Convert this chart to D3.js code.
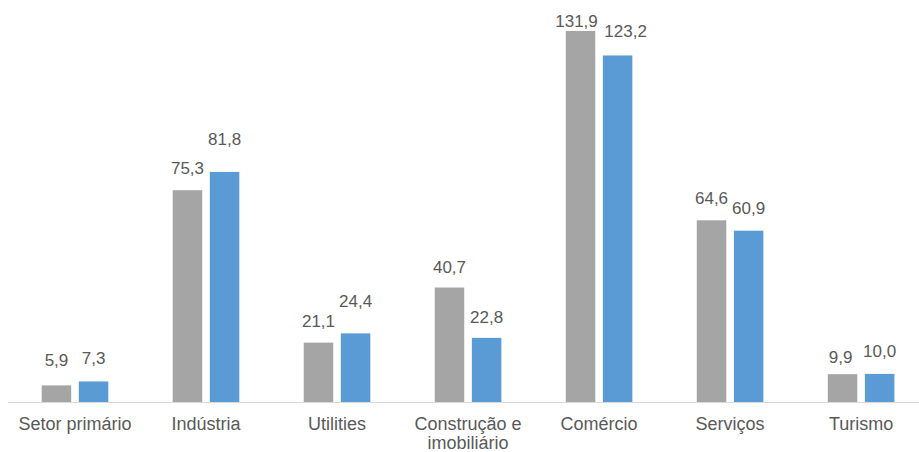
<!DOCTYPE html>
<html>
<head>
<meta charset="utf-8">
<script src="https://cdn.jsdelivr.net/npm/d3@7"></script>
<style>
  html, body { margin: 0; padding: 0; background: #ffffff; }
  svg { display: block; }
  text { font-family: "Liberation Sans", Arial, sans-serif; fill: #595959; }
</style>
</head>
<body>
<svg id="chart" width="919" height="452"></svg>
<script>
// ---- data ----
const categories = ["Setor primário", "Indústria", "Utilities", "Construção e imobiliário", "Comércio", "Serviços", "Turismo"];
const seriesNames = ["Série 1", "Série 2"];
const series1 = [5.9, 75.3, 21.1, 40.7, 131.9, 64.6, 9.9];
const series2 = [7.3, 81.8, 24.4, 22.8, 123.2, 60.9, 10.0];

// ---- layout / style ----
const W = 919, H = 452;
const colors = ["#A5A5A5", "#5B9BD5"];
const baseY = 402;
// small label nudges (layout tweaks mimicking the original's label placement)
const labelNudgeY = [[-3, 0, 0, 1, 12, 0, 5], [-1, -11, -10, 1, -2, -1, -1]];
const labelNudgeX = [[0, 0, 0, 0, -4, 0, -2], [0, 0, 0, 0, 8, 0, 0]];

const svg = d3.select("#chart");

const x0 = d3.scaleBand().domain(categories).range([9.5, 926.6]).padding(0);
const groupW = 66.6;
const x1 = d3.scaleBand().domain(seriesNames).range([0, groupW]).paddingInner(0.205);
const y = d3.scaleLinear().domain([0, 140]).range([baseY, 8.2]);

const data = categories.map((c, i) => ({ cat: c, vals: [series1[i], series2[i]] }));

const groups = svg.append("g").selectAll("g").data(data).join("g")
  .attr("transform", d => `translate(${x0(d.cat) + x0.bandwidth() / 2 - groupW / 2},0)`);

groups.selectAll("rect").data(d => d.vals.map((v, k) => ({ v, k })))
  .join("rect")
  .attr("x", d => x1(seriesNames[d.k]))
  .attr("y", d => y(d.v))
  .attr("width", x1.bandwidth())
  .attr("height", d => baseY - y(d.v))
  .attr("fill", d => colors[d.k]);

const fmt = v => d3.format(".1f")(v).replace(".", ",");

groups.each(function(d, i) {
  const g = d3.select(this);
  d.vals.forEach((v, k) => {
    g.append("text")
      .attr("x", x1(seriesNames[k]) + x1.bandwidth() / 2 + labelNudgeX[k][i])
      .attr("y", y(v) - 16 + labelNudgeY[k][i])
      .attr("text-anchor", "middle")
      .style("font-size", "17px")
      .text(fmt(v));
  });
});

// baseline axis
const xAxis = d3.axisBottom(x0).tickSize(0).tickPadding(0);
const axG = svg.append("g").attr("transform", `translate(0,${baseY})`).call(xAxis);
axG.select(".domain").remove();
svg.append("line").attr("x1", 8).attr("x2", W).attr("y1", baseY + 0.5).attr("y2", baseY + 0.5)
  .attr("stroke", "#D9D9D9").attr("stroke-width", 1);

axG.selectAll(".tick text")
  .style("font-size", "18px")
  .attr("fill", "#595959")
  .attr("font-family", null)
  .attr("dy", null)
  .attr("y", 28)
  .each(function(d) {
    const t = d3.select(this);
    const maxW = x0.bandwidth() * 0.95;
    const words = d.split(" ");
    t.text(null);
    let line = [];
    let lineNo = 0;
    let tspan = t.append("tspan").attr("x", 0).attr("y", 28);
    words.forEach(w => {
      line.push(w);
      tspan.text(line.join(" "));
      if (tspan.node().getComputedTextLength() > maxW && line.length > 1) {
        line.pop();
        tspan.text(line.join(" "));
        line = [w];
        lineNo++;
        tspan = t.append("tspan").attr("x", 0).attr("y", 28 + lineNo * 19).text(w);
      }
    });
  });
</script>
</body>
</html>
